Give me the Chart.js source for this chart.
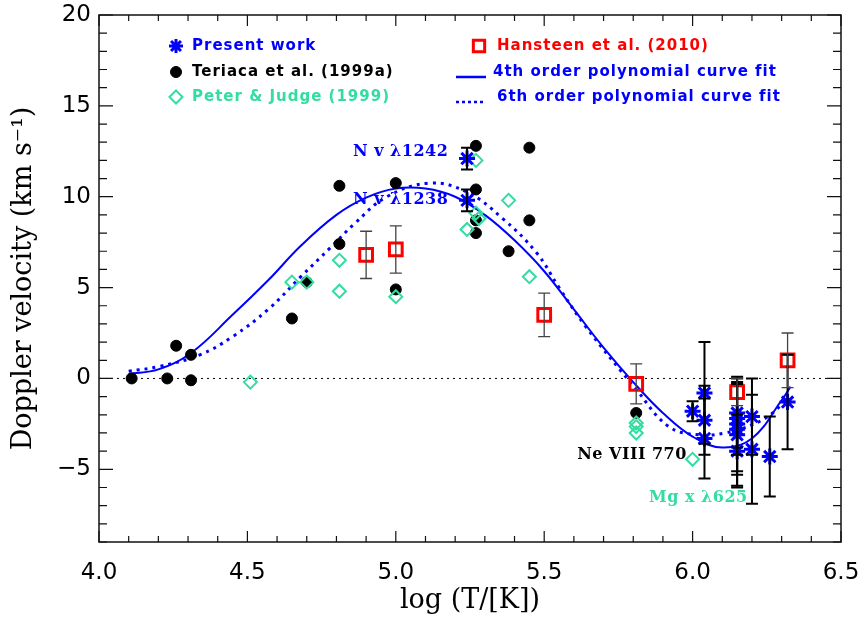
<!DOCTYPE html>
<html>
<head>
<meta charset="utf-8">
<script src="https://cdn.jsdelivr.net/npm/chart.js@4.4.1/dist/chart.umd.min.js"></script>
<style>
  html, body { margin: 0; padding: 0; background: #fff; }
  #wrap { width: 863px; height: 617px; }
</style>
</head>
<body>
<div id="wrap"><canvas id="chart"></canvas></div>
<script>
// Present work (asterisks) with error bars
const presentX   = [5.24, 5.24, 6.00, 6.04, 6.04, 6.04, 6.15, 6.15, 6.15, 6.15, 6.15, 6.15, 6.20, 6.20, 6.26, 6.32];
const presentY   = [12.1, 9.8, -1.8, -0.8, -2.3, -3.3, -1.9, -2.2, -2.5, -2.8, -3.1, -4.0, -2.1, -3.9, -4.3, -1.3];
const presentErr = [0.6, 0.6, 0.55, 2.8, 1.9, 2.2, 1.9, 2.0, 2.6, 2.5, 2.8, 2.0, 2.1, 3.0, 2.2, 2.6];

// Teriaca et al. (1999a)
const teriacaX = [4.11, 4.23, 4.26, 4.31, 4.31, 4.65, 4.70, 4.81, 4.81, 5.00, 5.00, 5.27, 5.27, 5.27, 5.27, 5.38, 5.45, 5.45, 5.81];
const teriacaY = [0.0, 0.0, 1.8, 1.3, -0.1, 3.3, 5.3, 10.6, 7.4, 10.75, 4.9, 12.8, 10.4, 8.7, 8.0, 7.0, 12.7, 8.7, -1.9];

// Peter & Judge (1999)
const peterX = [4.51, 4.65, 4.70, 4.81, 4.81, 5.00, 5.24, 5.27, 5.27, 5.28, 5.38, 5.45, 5.81, 5.81, 5.81, 6.00];
const peterY = [-0.2, 5.3, 5.3, 6.5, 4.8, 4.5, 8.2, 12.0, 9.1, 8.8, 9.8, 5.6, -2.45, -2.65, -3.0, -4.45];

// Hansteen et al. (2010)
const hansteenX   = [4.90, 5.00, 5.50, 5.81, 6.15, 6.32];
const hansteenY   = [6.8, 7.1, 3.5, -0.3, -0.75, 1.0];
const hansteenErr = [1.3, 1.3, 1.2, 1.1, 0.75, 1.5];

// fitted curves
const fit4X = [4.10, 4.20, 4.31, 4.45, 4.57, 4.68, 4.80, 4.90, 5.00, 5.10, 5.20, 5.30, 5.40, 5.50, 5.60, 5.70, 5.80, 5.90, 6.00, 6.10, 6.20, 6.30, 6.33];
const fit4Y = [0.25, 0.5, 1.4, 3.5, 5.4, 7.3, 9.0, 9.95, 10.45, 10.45, 10.0, 9.0, 7.6, 5.9, 3.8, 1.7, -0.2, -1.9, -3.2, -3.8, -3.3, -1.2, -0.45];
const fit6X = [4.10, 4.20, 4.34, 4.45, 4.57, 4.68, 4.78, 4.86, 4.97, 5.115, 5.24, 5.36, 5.475, 5.55, 5.64, 5.81, 5.92, 6.02, 6.11, 6.20, 6.27, 6.32];
const fit6Y = [0.4, 0.65, 1.3, 2.3, 3.8, 5.6, 7.2, 8.5, 10.0, 10.75, 10.25, 8.8, 6.9, 5.0, 2.85, -0.6, -2.65, -3.1, -3.0, -2.55, -1.9, -1.0];

const zeroX = [4.0, 6.5];
const zeroY = [0, 0];

const xTicks = [4.0, 4.5, 5.0, 5.5, 6.0, 6.5];
const yTicks = [-5, 0, 5, 10, 15, 20];

const blue = '#0000ff';
const red = '#ff0000';
const teal = '#33dda0';

function toPoints(xs, ys) {
    return xs.map((x, i) => ({ x: x, y: ys[i] }));
}

// no extra room for edge labels, the layout padding decides the plot box
function fixScale(s, size) {
    if (s.isHorizontal()) s.height = size; else s.width = size;
    s.paddingLeft = 0;
    s.paddingRight = 0;
    s.paddingTop = 0;
    s.paddingBottom = 0;
}

// vertical error bars with caps
const errorBars = {
    id: 'errorBars',
    afterDatasetsDraw(chart) {
        const ctx = chart.ctx;
        const sx = chart.scales.x, sy = chart.scales.y;
        chart.data.datasets.forEach(ds => {
            if (!ds.yErr) return;
            ctx.save();
            ctx.strokeStyle = ds.errColor;
            ctx.lineWidth = ds.errWidth;
            ds.data.forEach((p, i) => {
                const px = sx.getPixelForValue(p.x);
                const top = sy.getPixelForValue(p.y + ds.yErr[i]);
                const bot = sy.getPixelForValue(p.y - ds.yErr[i]);
                ctx.beginPath();
                ctx.moveTo(px, top); ctx.lineTo(px, bot);
                ctx.moveTo(px - 6, top); ctx.lineTo(px + 6, top);
                ctx.moveTo(px - 6, bot); ctx.lineTo(px + 6, bot);
                ctx.stroke();
            });
            ctx.restore();
        });
    }
};

// box with inward ticks on all four sides
const frameTicks = {
    id: 'frameTicks',
    afterDraw(chart) {
        const ctx = chart.ctx;
        const a = chart.chartArea;
        const sx = chart.scales.x, sy = chart.scales.y;
        ctx.save();
        ctx.strokeStyle = '#111';
        ctx.lineWidth = 1.5;
        ctx.strokeRect(a.left, a.top, a.right - a.left, a.bottom - a.top);
        ctx.lineWidth = 1.2;
        ctx.beginPath();
        for (let v = 4.0; v <= 6.501; v += 0.1) {
            const major = Math.abs(v * 2 - Math.round(v * 2)) < 1e-6;
            const len = major ? 11 : 6;
            const px = sx.getPixelForValue(v);
            ctx.moveTo(px, a.bottom); ctx.lineTo(px, a.bottom - len);
            ctx.moveTo(px, a.top); ctx.lineTo(px, a.top + len);
        }
        for (let v = -9; v <= 20; v += 1) {
            const len = v % 5 === 0 ? 14 : 8;
            const py = sy.getPixelForValue(v);
            ctx.moveTo(a.left, py); ctx.lineTo(a.left + len, py);
            ctx.moveTo(a.right, py); ctx.lineTo(a.right - len, py);
        }
        ctx.stroke();
        ctx.restore();
    }
};

// line labels inside the plot
const annotations = [
    { text: 'N v λ1242', x: 4.856, y: 12.46, color: blue },
    { text: 'N v λ1238', x: 4.856, y: 9.82, color: blue },
    { text: 'Ne VIII 770', x: 5.611, y: -4.22, color: '#000' },
    { text: 'Mg x λ625', x: 5.853, y: -6.58, color: teal }
];

const labelPlugin = {
    id: 'labelPlugin',
    afterDatasetsDraw(chart) {
        const ctx = chart.ctx;
        const sx = chart.scales.x, sy = chart.scales.y;
        ctx.save();
        ctx.font = 'bold 16px "DejaVu Serif"';
        ctx.letterSpacing = '0.5px';
        ctx.textBaseline = 'middle';
        annotations.forEach(t => {
            ctx.fillStyle = t.color;
            ctx.fillText(t.text, sx.getPixelForValue(t.x), sy.getPixelForValue(t.y));
        });
        ctx.restore();
    }
};

// two-column legend drawn at the top of the plot
const legendItems = [
    { text: 'Present work', color: blue, mx: 176, tx: 192, y: 46, style: 'star', r: 7, lw: 3, fill: true },
    { text: 'Teriaca et al. (1999a)', color: '#000', mx: 176, tx: 192, y: 72, style: 'circle', r: 5.5, lw: 1, fill: true },
    { text: 'Peter & Judge (1999)', color: teal, mx: 176, tx: 192, y: 97, style: 'rectRot', r: 6.5, lw: 2, fill: false },
    { text: 'Hansteen et al. (2010)', color: red, mx: 479, tx: 497, y: 46, style: 'rect', r: 8, lw: 3, fill: false },
    { text: '4th order polynomial curve fit', color: blue, mx: 470, tx: 493, y: 72, style: 'line', dash: [] },
    { text: '6th order polynomial curve fit', color: blue, mx: 470, tx: 497, y: 97, style: 'line', dash: [3, 3] }
];

const legendPlugin = {
    id: 'legendPlugin',
    afterDraw(chart) {
        const ctx = chart.ctx;
        ctx.save();
        legendItems.forEach(it => {
            ctx.strokeStyle = it.color;
            if (it.style === 'line') {
                ctx.lineWidth = 2.5;
                ctx.setLineDash(it.dash);
                ctx.beginPath();
                ctx.moveTo(456, it.y + 5);
                ctx.lineTo(486, it.y + 5);
                ctx.stroke();
                ctx.setLineDash([]);
            } else {
                ctx.fillStyle = it.fill ? it.color : 'rgba(0,0,0,0)';
                ctx.lineWidth = it.lw;
                Chart.helpers.drawPoint(ctx, { pointStyle: it.style, radius: it.r, rotation: 0, borderWidth: it.lw }, it.mx, it.y);
            }
            ctx.font = 'bold 15px "DejaVu Sans"';
            ctx.letterSpacing = '1px';
            ctx.textBaseline = 'middle';
            ctx.fillStyle = it.color;
            ctx.fillText(it.text, it.tx, it.y);
        });
        ctx.restore();
    }
};

const ctx = document.getElementById('chart');

new Chart(ctx, {
    type: 'scatter',
    data: {
        datasets: [
            {
                label: 'Present work',
                data: toPoints(presentX, presentY),
                pointStyle: 'star',
                pointRadius: 8,
                borderColor: blue,
                backgroundColor: blue,
                pointBorderWidth: 3,
                yErr: presentErr,
                errColor: '#000',
                errWidth: 2,
                order: 1
            },
            {
                label: 'Hansteen et al. (2010)',
                data: toPoints(hansteenX, hansteenY),
                pointStyle: 'rect',
                pointRadius: 9,
                borderColor: red,
                backgroundColor: 'rgba(0,0,0,0)',
                pointBorderWidth: 3,
                yErr: hansteenErr,
                errColor: '#444',
                errWidth: 1.3,
                order: 2
            },
            {
                label: 'Peter & Judge (1999)',
                data: toPoints(peterX, peterY),
                pointStyle: 'rectRot',
                pointRadius: 6.5,
                borderColor: teal,
                backgroundColor: 'rgba(0,0,0,0)',
                pointBorderWidth: 2,
                order: 3
            },
            {
                label: 'Teriaca et al. (1999a)',
                data: toPoints(teriacaX, teriacaY),
                pointStyle: 'circle',
                pointRadius: 5.5,
                borderColor: '#000',
                backgroundColor: '#000',
                pointBorderWidth: 1,
                order: 4
            },
            {
                label: '4th order polynomial curve fit',
                type: 'line',
                data: toPoints(fit4X, fit4Y),
                borderColor: blue,
                borderWidth: 2,
                pointRadius: 0,
                tension: 0.4,
                fill: false,
                order: 5
            },
            {
                label: '6th order polynomial curve fit',
                type: 'line',
                data: toPoints(fit6X, fit6Y),
                borderColor: blue,
                borderWidth: 3,
                borderDash: [3, 5],
                pointRadius: 0,
                tension: 0.4,
                fill: false,
                order: 6
            },
            {
                label: 'zero',
                type: 'line',
                data: toPoints(zeroX, zeroY),
                borderColor: '#000',
                borderWidth: 1,
                borderDash: [2, 4],
                pointRadius: 0,
                fill: false,
                order: 7
            }
        ]
    },
    options: {
        responsive: true,
        maintainAspectRatio: false,
        animation: false,
        layout: { padding: { left: 0, top: 15, right: 22, bottom: 0 } },
        plugins: {
            legend: { display: false },
            tooltip: { enabled: false }
        },
        scales: {
            x: {
                type: 'linear',
                min: 4.0,
                max: 6.5,
                afterFit: s => fixScale(s, 75),
                afterBuildTicks: s => { s.ticks = xTicks.map(v => ({ value: v })); },
                grid: { display: false, drawTicks: false },
                border: { display: false },
                ticks: {
                    color: '#000',
                    padding: 17,
                    maxRotation: 0,
                    font: { family: 'DejaVu Sans', size: 23 },
                    callback: v => v.toFixed(1)
                },
                title: {
                    display: true,
                    text: 'log (T/[K])',
                    color: '#000',
                    font: { family: 'DejaVu Serif', size: 27, lineHeight: 1.0 },
                    padding: { top: 0, bottom: 3 }
                }
            },
            y: {
                type: 'linear',
                min: -9,
                max: 20,
                afterFit: s => fixScale(s, 99),
                afterBuildTicks: s => { s.ticks = yTicks.map(v => ({ value: v })); },
                grid: { display: false, drawTicks: false },
                border: { display: false },
                ticks: {
                    color: '#000',
                    padding: 8,
                    font: { family: 'DejaVu Sans', size: 23 },
                    callback: v => (v < 0 ? '\u2212' + Math.abs(v) : String(v))
                },
                title: {
                    display: true,
                    text: 'Doppler velocity (km s\u207B\u00B9)',
                    color: '#000',
                    font: { family: 'DejaVu Serif', size: 27, lineHeight: 1.0 },
                    padding: { top: 10, bottom: 0 }
                }
            }
        }
    },
    plugins: [errorBars, frameTicks, labelPlugin, legendPlugin]
});
</script>
</body>
</html>
